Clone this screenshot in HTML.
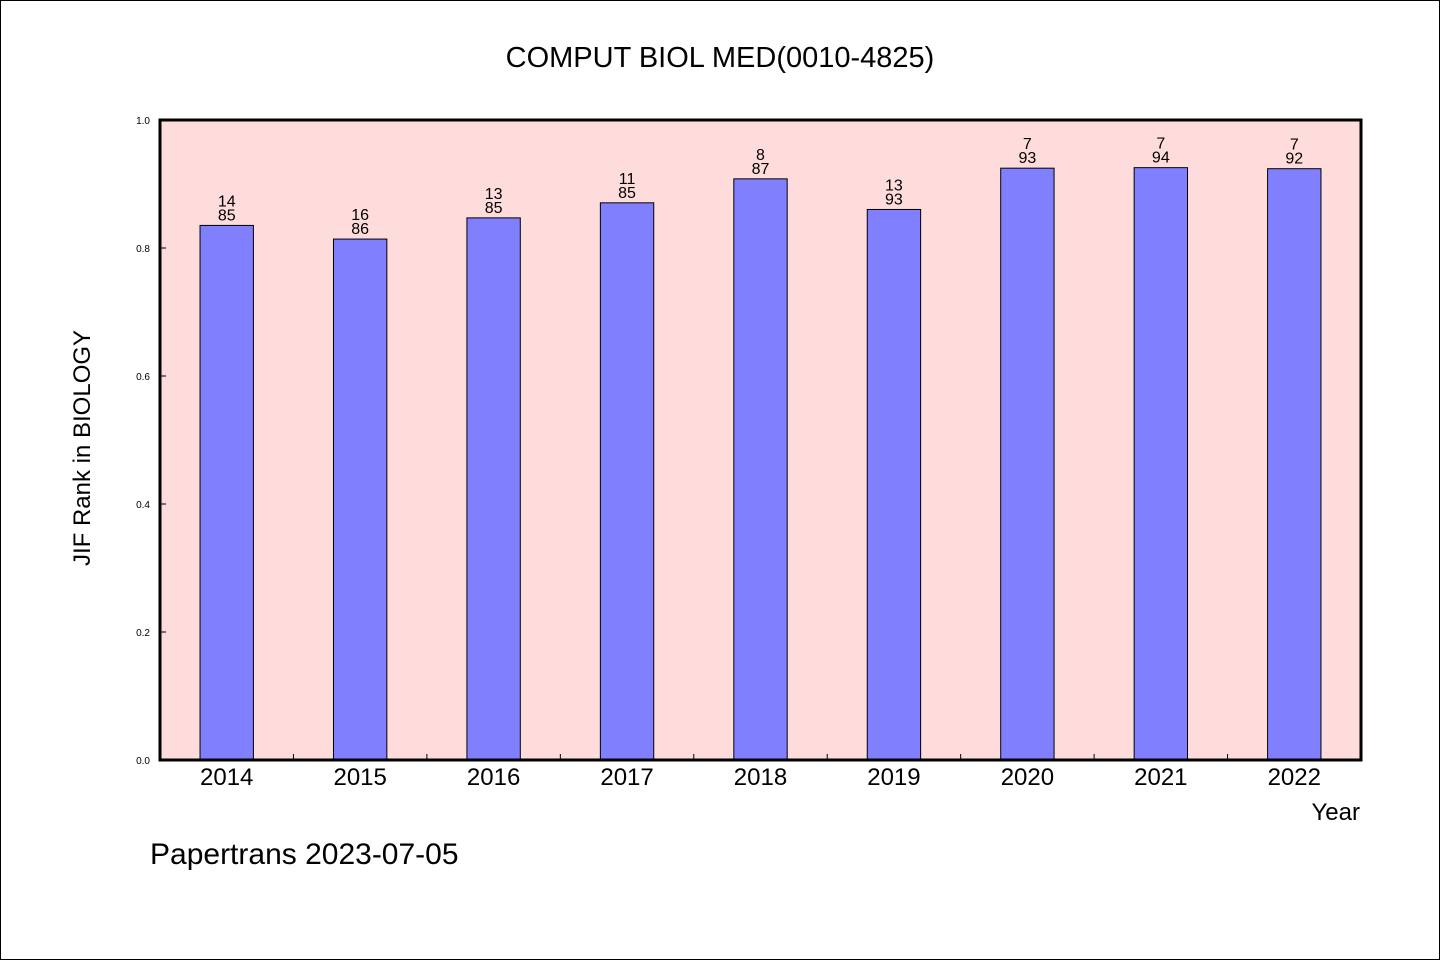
<!DOCTYPE html>
<html><head><meta charset="utf-8"><style>
html,body{margin:0;padding:0;background:#fff}
svg{display:block}
text{font-family:"WenQuanYi Zen Hei","Liberation Sans",sans-serif;fill:#000}
</style></head><body>
<svg id="chart" width="1440" height="960" viewBox="0 0 1440 960" xmlns="http://www.w3.org/2000/svg">
<rect x="0.5" y="0.5" width="1439" height="959" fill="#fff" stroke="#000" stroke-width="1"/>
<text x="720" y="67" font-size="29" text-anchor="middle">COMPUT BIOL MED(0010-4825)</text>
<rect x="160" y="120" width="1201" height="640" fill="#ffdcdc"/>
<g id="bars"></g>
<rect x="160" y="120" width="1201" height="640" fill="none" stroke="#000" stroke-width="3"/>
<text transform="translate(90,448) rotate(-90)" font-size="24" text-anchor="middle">JIF Rank in BIOLOGY</text>
<text x="1360" y="820" font-size="24" text-anchor="end">Year</text>
<text x="150" y="864" font-size="30">Papertrans 2023-07-05</text>
</svg>
<script>
const years = ["2014","2015","2016","2017","2018","2019","2020","2021","2022"];
const ranks = [14,16,13,11,8,13,7,7,7];
const totals = [85,86,85,85,87,93,93,94,92];
const yTicks = [0,0.2,0.4,0.6,0.8,1.0];
const yTickLabels = ["0.0","0.2","0.4","0.6","0.8","1.0"];
const NS="http://www.w3.org/2000/svg";
const L=160,R=1361,T=120,B=760;
const band=(R-L)/years.length;
const xc=i=>L+band*(i+0.5);
const y=v=>B-(B-T)*v;
const g=document.getElementById('bars');
function mk(tag,attrs,parent){const e=document.createElementNS(NS,tag);for(const k in attrs)e.setAttribute(k,attrs[k]);(parent||g).appendChild(e);return e;}
yTicks.forEach((v,i)=>{
  const t=mk('line',{x1:L,x2:L+6,y1:y(v),y2:y(v),stroke:'#000','stroke-width':1});
  
  
  const lb=mk('text',{x:150,y:y(v)+4,'font-size':10,'text-anchor':'end'});
  lb.textContent=yTickLabels[i];
  
  
});
years.forEach((yr,i)=>{
  const v=(totals[i]-ranks[i])/totals[i];
  const bw=band*0.4;
  const b=mk('rect',{x:xc(i)-bw/2,y:y(v),width:bw,height:B-y(v),fill:'#8080ff',stroke:'#000','stroke-width':1});
  
  
  const l1=mk('text',{x:xc(i),y:y(v)-19,'font-size':16,'text-anchor':'middle'});
  l1.textContent=ranks[i];
  
  
  const l2=mk('text',{x:xc(i),y:y(v)-5,'font-size':16,'text-anchor':'middle'});
  l2.textContent=totals[i];
  
  
  const xl=mk('text',{x:xc(i),y:785,'font-size':24,'text-anchor':'middle'});
  xl.textContent=yr;
  
  
  if(i>0){
    const tk=mk('line',{x1:L+band*i,x2:L+band*i,y1:B,y2:B-6,stroke:'#000','stroke-width':1});
    
    
  }
});
</script>
</body></html>
